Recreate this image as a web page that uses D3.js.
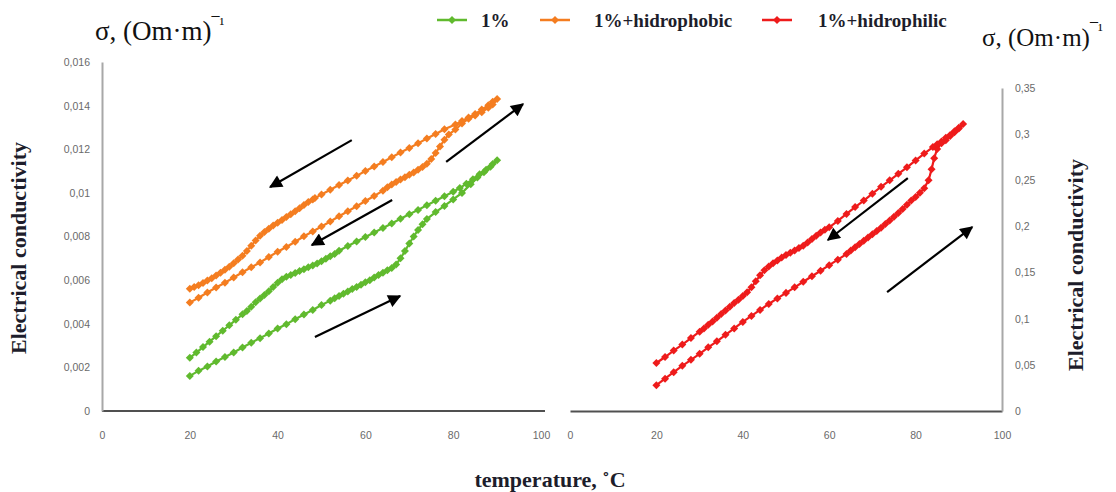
<!DOCTYPE html>
<html>
<head>
<meta charset="utf-8">
<script src="https://cdn.jsdelivr.net/npm/d3@7"></script>
<style>
  body { margin: 0; background: #fff; }
  svg { display: block; }
  .tick text { font-family: "Liberation Sans", Arial, sans-serif; font-size: 10.5px; fill: #6a6a6a; }
  .serif { font-family: "Liberation Serif", "Times New Roman", serif; }
</style>
</head>
<body>
<svg id="chart" width="1116" height="492"></svg>
<script>
// tick labels
const xTicks = [0, 20, 40, 60, 80, 100];
const yTicksLeft = [0, 0.002, 0.004, 0.006, 0.008, 0.01, 0.012, 0.014, 0.016];
const yTicksRight = [0, 0.05, 0.1, 0.15, 0.2, 0.25, 0.3, 0.35];

// 1% : heating (lower branch) then cooling (upper branch)
const pct1HeatT = [20,22,24,26,28,30,32,34,36,38,40,42,44,46,48,50,52,
  53,54,55,56,57,58,59,60,61,62,63,64,65,66,
  67,68,69,70,71,72,73,74,
  76,78,80,82,84,85.5,87,88.5,90];
const pct1HeatS = [.00161,.00184,.00204,.00227,.00248,.00268,.00291,.00313,.00334,.00355,.00378,.00398,.00421,.00442,.00463,.00486,.00506,
  .00517,.00527,.00538,.00548,.00559,.00569,.00579,.00590,.00600,.00612,.00623,.00634,.00645,.00656,
  .00672,.00700,.00733,.00768,.00800,.00830,.00856,.00880,
  .00912,.00940,.00970,.01000,.01040,.01070,.01095,.01120,.01150];
const pct1CoolT = [89,87.5,86,84.5,83,81.5,80,78,76,74,72,70,68,66,64,62,60,58,56,54,
  53,52,51,50,49,48,47,46,45,44,43,42,41,40,39,38,37,36,35,34,33,
  32,30.5,29,27.5,26,24.5,23,21.5,20];
const pct1CoolS = [.01132,.01106,.01085,.01063,.01042,.01022,.01005,.00985,.00964,.00943,.00922,.00902,.00881,.00860,.00839,.00818,.00798,.00777,.00756,.00735,
  .00720,.00710,.00698,.00686,.00676,.00667,.00659,.00650,.00642,.00633,.00624,.00615,.00604,.00588,.00568,.00549,.00532,.00516,.00498,.00478,.00458,
  .00443,.00418,.00393,.00368,.00343,.00318,.00293,.00268,.00244];

// 1%+hidrophobic
const phobHeatT = [20,22,24,26,28,30,32,34,36,38,40,42,44,46,48,50,52,54,56,58,60,62,64,
  65,66,67,68,69,70,71,72,73,74,75,76,77,78,79,
  80.5,82,83.5,85,86.5,88,89,90];
const phobHeatS = [.00497,.00519,.00543,.00566,.00588,.00612,.00636,.00659,.00681,.00706,.00730,.00752,.00776,.00801,.00823,.00846,.00869,.00893,.00916,.00939,.00963,.00986,.01010,
  .01026,.01038,.01050,.01061,.01072,.01083,.01093,.01106,.01119,.01133,.01155,.01183,.01213,.01243,.01268,
  .01290,.01318,.01340,.01355,.01370,.01390,.01405,.01430];
const phobCoolT = [89,88,86.5,85,83.5,82,80.5,78,76,74,72,70,68,66,64,62,60,58,56,54,52,50,48.5,
  48,47,46,45,44,43,42,41,40,39,38,37,36,35,34,33,32,31,30,29,28,27,26,25,24,23,22,21,20];
const phobCoolS = [.01418,.01402,.01382,.01362,.01346,.01330,.01314,.01292,.01270,.01249,.01227,.01206,.01185,.01163,.01142,.01121,.01100,.01078,.01057,.01036,.01014,.00993,.00976,
  .00970,.00958,.00944,.00930,.00916,.00902,.00889,.00876,.00863,.00850,.00836,.00821,.00803,.00782,.00758,.00734,.00712,.00694,.00677,.00661,.00647,.00634,.00621,.00609,.00598,.00587,.00577,.00568,.00560];

// 1%+hidrophilic
const philHeatT = [20,22,24,26,28,30,32,34,36,38,40,42,44,46,48,50,52,54,56,58,60,62,64,
  65,66,67,68,69,70,71,72,73,74,75,76,77,78,79,80,81,82,
  83,83.7,84.3,85,86,87,88,89,90,91];
const philHeatS = [.028,.035,.042,.049,.0555,.062,.069,.0755,.0825,.0895,.0965,.103,.1095,.116,.122,.128,.134,.140,.146,.152,.158,.164,.170,
  .174,.1775,.181,.1845,.188,.1915,.195,.1985,.2025,.2065,.2105,.2145,.219,.2235,.228,.232,.2365,.2415,
  .250,.262,.274,.284,.290,.2935,.298,.302,.306,.311];
const philCoolT = [90,89,88,87,86,85,84,82,80,78,76,74,72,70,68,66,64,62,60,
  59,58,57,56,55,54,53,52,51,50,49,48,47,46,45,44,43,42,41,40,39,38,37,36,35,34,33,32,31,30,
  28,26,24,22,20];
const philCoolS = [.307,.303,.299,.296,.292,.289,.286,.279,.2715,.264,.257,.250,.243,.2355,.228,.221,.2135,.206,.199,
  .1965,.1935,.190,.1865,.1825,.179,.1765,.174,.1715,.169,.1662,.1632,.1600,.1565,.1525,.1470,.1405,.1340,.1288,.1245,.1205,.117,.113,.109,.105,.101,.097,.0935,.0895,.086,
  .079,.072,.0655,.0585,.052];

// direction arrows [t1, s1, t2, s2] (tip at t2, s2)
const arrowsLeft = [[56.9,.01242,38.3,.01027],[66.1,.00967,47.8,.00761],[48.5,.00339,67.9,.00527],[78.4,.01142,95.9,.01407]];
const arrowsRight = [[78.2,.2524,59.7,.1853],[73.4,.1289,93.1,.1993]];

const zip = (t, s) => t.map((d, i) => [d, s[i]]);

const svg = d3.select('#chart');

// scales
const xL = d3.scaleLinear().domain([0, 100]).range([102, 541]);
const yL = d3.scaleLinear().domain([0, 0.016]).range([411, 62]);
const xR = d3.scaleLinear().domain([0, 100]).range([570, 1002]);
const yR = d3.scaleLinear().domain([0, 0.35]).range([411, 88]);

const comma = d => String(d).replace('.', ',');

// axes
const gxL = svg.append('g').attr('transform', 'translate(0,411)')
    .call(d3.axisBottom(xL).tickValues(xTicks).tickSize(0).tickPadding(21));
const gxR = svg.append('g').attr('transform', 'translate(0,411)')
    .call(d3.axisBottom(xR).tickValues(xTicks).tickSize(0).tickPadding(21));
const gyL = svg.append('g').attr('transform', 'translate(102,0)')
    .call(d3.axisLeft(yL).tickValues(yTicksLeft).tickFormat(comma).tickSize(0).tickPadding(12));
const gyR = svg.append('g').attr('transform', 'translate(1002,0)')
    .call(d3.axisRight(yR).tickValues(yTicksRight).tickFormat(comma).tickSize(0).tickPadding(13));

[gyL, gyR].forEach(g => g.select('.domain').attr('stroke', '#a8a8a8').attr('stroke-width', 2));
[gxL, gxR].forEach(g => g.select('.domain').attr('stroke', '#505050').attr('stroke-width', 1.8));
gxL.select('.domain').attr('d', 'M102,0H545');

// series
const series = [
  {name: '1%', color: '#60ba2e', x: xL, y: yL, pts: zip(pct1HeatT, pct1HeatS).concat(zip(pct1CoolT, pct1CoolS))},
  {name: '1%+hidrophobic', color: '#f47d20', x: xL, y: yL, pts: zip(phobHeatT, phobHeatS).concat(zip(phobCoolT, phobCoolS))},
  {name: '1%+hidrophilic', color: '#ee1b1b', x: xR, y: yR, pts: zip(philHeatT, philHeatS).concat(zip(philCoolT, philCoolS))}
];

const diamond = d3.symbol().type(d3.symbolSquare).size(32);

series.forEach(s => {
  const g = svg.append('g');
  g.append('path')
      .datum(s.pts)
      .attr('d', d3.line().x(d => s.x(d[0])).y(d => s.y(d[1])))
      .attr('fill', 'none')
      .attr('stroke', s.color)
      .attr('stroke-width', 2.2);
  g.selectAll('path.pt')
      .data(s.pts)
      .join('path')
      .attr('class', 'pt')
      .attr('d', diamond)
      .attr('transform', d => `translate(${s.x(d[0])},${s.y(d[1])}) rotate(45)`)
      .attr('fill', s.color);
});

// arrows
svg.append('defs').append('marker')
    .attr('id', 'head')
    .attr('viewBox', '0 0 10 10')
    .attr('refX', 9).attr('refY', 5)
    .attr('markerWidth', 17).attr('markerHeight', 13)
    .attr('markerUnits', 'userSpaceOnUse')
    .attr('orient', 'auto')
  .append('path')
    .attr('d', 'M0,0L10,5L0,10Z')
    .attr('fill', '#000');

const drawArrows = (list, x, y) => {
  svg.append('g').selectAll('line')
    .data(list)
    .join('line')
      .attr('x1', d => x(d[0])).attr('y1', d => y(d[1]))
      .attr('x2', d => x(d[2])).attr('y2', d => y(d[3]))
      .attr('stroke', '#000')
      .attr('stroke-width', 2.2)
      .attr('marker-end', 'url(#head)');
};
drawArrows(arrowsLeft, xL, yL);
drawArrows(arrowsRight, xR, yR);

// legend
const legendX = [437, 540, 762];
const legendTextX = [481, 594, 818];
const legend = svg.append('g').attr('transform', 'translate(0,20)');
series.forEach((s, i) => {
  const lx = legendX[i];
  legend.append('line').attr('x1', lx).attr('x2', lx + 30).attr('y1', 0).attr('y2', 0)
      .attr('stroke', s.color).attr('stroke-width', 2.5);
  legend.append('path').attr('d', diamond).attr('transform', `translate(${lx + 15},0) rotate(45)`).attr('fill', s.color);
  legend.append('text').attr('class', 'serif')
      .attr('x', legendTextX[i]).attr('y', 0).attr('dy', '0.35em')
      .style('font-size', '19px').style('font-weight', 'bold').style('fill', '#1d1d2b')
      .text(s.name);
});

// unit labels
const unit = (x, y, size) => {
  const t = svg.append('text').attr('class', 'serif').attr('x', x).attr('y', y)
      .style('font-size', size + 'px').style('fill', '#111');
  t.append('tspan').text('σ, (Om·m)');
  t.append('tspan').attr('dy', -11).style('font-size', '16px').text('¯¹');
};
unit(95, 40, 27);
unit(982, 46, 25);

// axis titles
const axisTitle = (x, y, rot, txt) => svg.append('text').attr('class', 'serif')
    .attr('transform', `translate(${x},${y}) rotate(${rot})`)
    .attr('text-anchor', 'middle').attr('dy', '0.35em')
    .style('font-size', '22px').style('font-weight', 'bold').style('fill', '#1d1d2b')
    .text(txt);
axisTitle(18, 248, -90, 'Electrical conductivity');
axisTitle(1075, 265, -90, 'Electrical conductivity');
axisTitle(550, 479, 0, 'temperature, ˚C');
</script>
</body>
</html>
